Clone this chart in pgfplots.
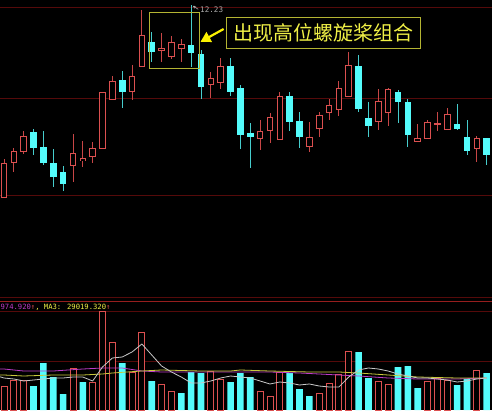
\documentclass[border=0pt]{standalone}
\usepackage{pgfplots}
\pgfplotsset{compat=1.18}
\usepackage{pgfplotstable}
\usepackage{fontspec}
\setmainfont{DejaVu Sans}
\newfontfamily\monofont{DejaVu Sans Mono}
\newfontfamily\cjk{Noto Sans CJK SC}
\usetikzlibrary{arrows.meta}

\definecolor{cRed}{RGB}{220,80,80}
\definecolor{cCyan}{RGB}{84,252,252}
\definecolor{cWickC}{RGB}{70,205,205}
\definecolor{cWickR}{RGB}{200,70,70}
\definecolor{cGrid}{RGB}{85,10,10}
\definecolor{cSep}{RGB}{150,30,30}
\definecolor{cWhite}{RGB}{200,200,200}
\definecolor{cYelLine}{RGB}{200,200,60}
\definecolor{cMag}{RGB}{190,60,200}
\definecolor{cBox}{RGB}{180,180,50}
\definecolor{cYel}{RGB}{240,240,70}
\definecolor{cArrow}{RGB}{250,240,0}
\definecolor{cLbl}{RGB}{170,170,170}

% rising days: index, open, high, low, close
\pgfplotstableread{
i  o     h     l     c
0  10.31 10.69 10.31 10.65
1  10.65 10.80 10.56 10.76
2  10.76 10.97 10.74 10.91
7  10.62 10.94 10.46 10.74
8  10.67 10.87 10.61 10.69
9  10.71 10.86 10.65 10.79
10 10.79 11.35 10.79 11.35
11 11.29 11.52 11.29 11.47
13 11.36 11.63 11.28 11.51
14 11.62 12.18 11.61 11.93
16 11.78 11.95 11.66 11.80
17 11.71 11.92 11.69 11.85
18 11.79 11.89 11.66 11.83
21 11.43 11.56 11.30 11.49
22 11.46 11.70 11.39 11.62
26 10.89 11.08 10.78 10.96
27 10.97 11.15 10.85 11.10
28 10.89 11.36 10.89 11.32
31 10.81 11.06 10.76 10.90
32 10.99 11.16 10.91 11.12
33 11.15 11.29 11.08 11.22
34 11.19 11.47 11.12 11.40
35 11.31 11.76 11.31 11.62
38 11.07 11.39 10.98 11.27
39 11.16 11.40 11.02 11.39
42 10.86 11.04 10.86 10.89
43 10.89 11.08 10.89 11.05
44 11.04 11.16 10.97 11.05
45 10.99 11.20 10.99 11.14
48 10.79 10.92 10.66 10.89
}\upcandles

% falling days: index, open, high, low, close
\pgfplotstableread{
i  o     h     l     c
3  10.96 10.99 10.73 10.81
4  10.81 10.97 10.63 10.66
5  10.65 10.79 10.41 10.52
6  10.56 10.62 10.37 10.45
12 11.47 11.57 11.20 11.36
15 11.85 11.96 11.66 11.76
19 11.83 12.23 11.61 11.76
20 11.74 11.78 11.29 11.42
23 11.62 11.70 11.32 11.37
24 11.39 11.43 10.79 10.93
25 10.94 11.05 10.60 10.91
29 11.31 11.36 10.97 11.06
30 11.06 11.16 10.80 10.91
36 11.61 11.73 11.16 11.19
37 11.10 11.26 10.91 11.03
40 11.35 11.38 11.05 11.26
41 11.25 11.29 10.81 10.93
46 11.03 11.24 10.98 10.99
47 10.91 11.08 10.73 10.78
49 10.89 10.89 10.63 10.73
}\downcandles

% volume, red bars
\pgfplotstableread{
i  v
0  21600
1  27000
2  27000
7  37800
9  25200
10 89100
11 61200
13 34200
14 70200
16 23400
17 17100
21 35100
22 27900
26 17100
27 12600
28 34200
32 15300
33 24300
34 32400
35 53100
38 26100
39 23400
43 26100
44 28800
45 27000
48 36000
}\volup

% volume, cyan bars
\pgfplotstableread{
i  v
3  21600
4  42300
5  29700
6  14400
8  25200
12 42300
15 26100
18 15300
19 34200
20 33300
23 25200
24 33300
25 29700
29 33300
30 18900
31 12600
36 52200
37 28800
40 38700
41 39600
42 19800
46 22500
47 27900
49 33300
}\voldown

% volume moving averages
\pgfplotstableread{
i  v
-1 31500
0  28800
1  27900
2  26100
3  27000
4  27900
5  28800
6  28800
7  29700
8  29700
9  26100
10 38700
11 46800
12 47700
13 52200
14 59400
15 49500
16 39600
17 34200
18 29700
19 24300
20 24300
21 26100
22 28800
23 30600
24 29700
25 28800
26 26100
27 23400
28 25200
29 24300
30 22500
31 23400
32 21600
33 20700
34 20700
35 29700
36 36000
37 37800
38 36900
39 35100
40 32400
41 30600
42 28800
43 28800
44 27900
45 27000
46 25200
47 26100
48 27900
49 28800
}\mawhite

\pgfplotstableread{
i  v
-1 36900
0  36900
2  35100
5  35100
8  36900
10 37800
12 37800
14 35100
16 34200
20 34200
24 34200
27 34200
30 33300
32 32400
34 31500
36 30600
39 28800
42 27900
46 27900
49 28800
}\mamag

\pgfplotstableread{
i  v
-1 31500
0  31500
2  30600
5  31500
8  31500
10 32400
11 33300
14 35100
16 36000
20 35100
23 35100
24 36000
27 35100
31 34200
34 34200
36 33300
39 31500
42 29700
46 28800
49 28800
}\mayel

\pgfplotsset{
  panel/.style={
    scale only axis, width=492pt,
    xmin=-0.406, xmax=49.543,
    axis line style={draw=none},
    xtick=\empty, ytick=\empty,
    scaled y ticks=false,
    clip=true,
  },
  % a vertical segment per candle, drawn as a y error bar
  seg/.style n args={2}{draw=none, mark=none, forget plot,
    error bars/.cd, y dir=both, y explicit, error mark=none,
    error bar style={draw=#1, line width=#2}},
}

\begin{document}
\begin{tikzpicture}
\fill[black] (0,0) rectangle (492pt,410pt);

% price panel
\begin{axis}[panel, at={(0pt,113pt)}, anchor=south west,
  height=297pt, ymin=9.31, ymax=12.28]
  \draw[cGrid, line width=0.8pt] (axis cs:-0.406,12.21) -- (axis cs:49.543,12.21);
  \draw[cGrid, line width=0.8pt] (axis cs:-0.406,11.30) -- (axis cs:49.543,11.30);
  \draw[cGrid, line width=0.8pt] (axis cs:-0.406,10.33) -- (axis cs:49.543,10.33);

  % wicks
  \addplot[seg={cWickR}{0.9pt}] table[x=i, y expr={(\thisrow{h}+\thisrow{l})/2},
    y error expr={(\thisrow{h}-\thisrow{l})/2+0.003}] {\upcandles};
  \addplot[seg={cWickC}{0.9pt}] table[x=i, y expr={(\thisrow{h}+\thisrow{l})/2},
    y error expr={(\thisrow{h}-\thisrow{l})/2+0.003}] {\downcandles};

  % bodies: rising days hollow, falling days solid
  \addplot[seg={cRed}{6.6pt}] table[x=i, y expr={(\thisrow{o}+\thisrow{c})/2},
    y error expr={(\thisrow{c}-\thisrow{o})/2+0.005}] {\upcandles};
  \addplot[seg={black}{4.6pt}] table[x=i, y expr={(\thisrow{o}+\thisrow{c})/2},
    y error expr={max((\thisrow{c}-\thisrow{o})/2-0.005,0)}] {\upcandles};
  \addplot[seg={cCyan}{6.6pt}] table[x=i, y expr={(\thisrow{o}+\thisrow{c})/2},
    y error expr={(\thisrow{o}-\thisrow{c})/2+0.005}] {\downcandles};

  % high marker
  \draw[cLbl, line width=0.6pt, -{Stealth[length=3pt,width=3pt]}]
    (axis cs:19.72,12.187) -- (axis cs:19.17,12.222);
  \node[anchor=base west, inner sep=0pt, text=cLbl,
    font=\monofont\fontsize{7.6}{8}\selectfont] at (axis cs:19.9,12.153) {12.23};

  % pattern frame and caption
  \draw[cBox, line width=1pt] (axis cs:14.75,12.157) rectangle (axis cs:19.83,11.597);
  \draw[cBox, line width=1pt] (axis cs:22.61,12.107) rectangle (axis cs:42.26,11.797);
  \node[text=cYel, inner sep=0pt, font=\cjk\fontsize{20}{20}\selectfont]
    at (axis cs:32.44,11.952) {出现高位螺旋桨组合};
  \draw[cArrow, line width=2.2pt, -{Triangle[length=10pt,width=11pt]}]
    (axis cs:22.30,11.990) -- (axis cs:19.95,11.862);
\end{axis}

% volume panel
\begin{axis}[panel, at={(0pt,0pt)}, anchor=south west,
  height=113pt, ymin=0, ymax=101700]
  \draw[cGrid, line width=0.8pt] (axis cs:-0.406,101250) -- (axis cs:49.543,101250);
  \draw[cSep, line width=0.9pt] (axis cs:-0.406,98100) -- (axis cs:49.543,98100);
  \draw[cGrid, line width=0.8pt] (axis cs:-0.406,89100) -- (axis cs:49.543,89100);
  \draw[cGrid, line width=0.8pt] (axis cs:-0.406,44100) -- (axis cs:49.543,44100);

  \addplot[ybar, bar width=6pt, bar shift=0pt, draw=cRed, fill=black, line width=0.9pt]
    table[x=i, y=v] {\volup};
  \addplot[ybar, bar width=6.6pt, bar shift=0pt, fill=cCyan, draw=none]
    table[x=i, y=v] {\voldown};

  \addplot[cMag, line width=0.8pt, mark=none] table[x=i, y=v] {\mamag};
  \addplot[cYelLine, line width=0.8pt, mark=none] table[x=i, y=v] {\mayel};
  \addplot[cWhite, line width=0.8pt, mark=none] table[x=i, y=v] {\mawhite};

  \node[anchor=base west, inner sep=0pt, font=\monofont\fontsize{7.2}{8}\selectfont]
    at (axis cs:-0.36,90900)
    {\textcolor{cMag}{974.920}\textcolor{cRed}{↑}\textcolor{cYel}{, MA3: 29019.320}\textcolor{cRed}{↑}};
\end{axis}

\pgfresetboundingbox
\useasboundingbox (0,0) rectangle (492pt,410pt);
\end{tikzpicture}
\end{document}
